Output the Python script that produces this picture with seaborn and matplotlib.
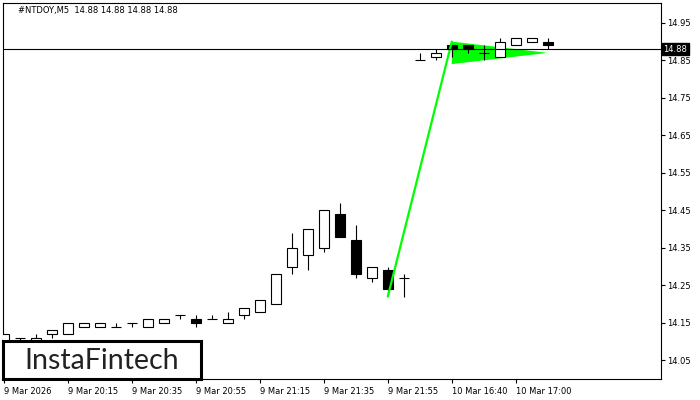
import matplotlib
matplotlib.use("Agg")
import matplotlib.pyplot as plt
import matplotlib.transforms as mtransforms
import seaborn as sns
import numpy as np

# 5-minute candles, index 0..34 (left to right)
opens  = [14.10, 14.11, 14.10, 14.12, 14.12, 14.14, 14.14, 14.14, 14.15, 14.14,
          14.15, 14.17, 14.16, 14.16, 14.15, 14.17, 14.18, 14.20, 14.30, 14.33,
          14.35, 14.44, 14.37, 14.27, 14.29, 14.27, 14.85, 14.86, 14.89, 14.89,
          14.87, 14.86, 14.89, 14.90, 14.90]
highs  = [14.12, 14.11, 14.12, 14.13, 14.15, 14.15, 14.15, 14.15, 14.15, 14.16,
          14.16, 14.17, 14.17, 14.17, 14.18, 14.19, 14.21, 14.28, 14.39, 14.40,
          14.45, 14.47, 14.41, 14.30, 14.30, 14.28, 14.87, 14.88, 14.89, 14.89,
          14.89, 14.91, 14.91, 14.91, 14.91]
lows   = [14.09, 14.10, 14.10, 14.11, 14.12, 14.14, 14.14, 14.14, 14.14, 14.14,
          14.15, 14.16, 14.14, 14.16, 14.15, 14.16, 14.18, 14.20, 14.28, 14.29,
          14.34, 14.38, 14.27, 14.26, 14.23, 14.22, 14.85, 14.85, 14.86, 14.87,
          14.85, 14.86, 14.89, 14.90, 14.88]
closes = [14.12, 14.11, 14.11, 14.13, 14.15, 14.15, 14.15, 14.14, 14.15, 14.16,
          14.16, 14.17, 14.15, 14.16, 14.16, 14.19, 14.21, 14.28, 14.35, 14.40,
          14.45, 14.38, 14.28, 14.30, 14.24, 14.27, 14.85, 14.87, 14.88, 14.88,
          14.87, 14.90, 14.91, 14.91, 14.89]

tick_pos = [0, 4, 8, 12, 16, 20, 24, 28, 32]
tick_labels = ['9 Mar 2026', '9 Mar 20:15', '9 Mar 20:35', '9 Mar 20:55', '9 Mar 21:15',
               '9 Mar 21:35', '9 Mar 21:55', '10 Mar 16:40', '10 Mar 17:00']
y_ticks = [14.05, 14.15, 14.25, 14.35, 14.45, 14.55, 14.65, 14.75, 14.85, 14.95]

# bullish pennant: pole and flag
pole_x = [24, 28]
pole_y = [14.22, 14.90]
flag_x = [28, 28, 34]
flag_y = [14.90, 14.84, 14.87]

last_price = 14.88
title = '#NTDOY,M5  14.88 14.88 14.88 14.88'

sns.set_theme(style='white')
plt.rcParams['font.family'] = ['DejaVu Sans']

fig = plt.figure(figsize=(7, 4), dpi=100)
ax = fig.add_axes([3/700, 21/400, 657.6/700, 376/400])

x = np.arange(len(opens))
o = np.array(opens); c = np.array(closes)
h = np.array(highs); l = np.array(lows)

# flag fill sits under the candles
ax.fill(flag_x, flag_y, color='#00ff00', lw=0, zorder=1)

ax.vlines(x, l, h, color='black', lw=0.8, zorder=2)
body = c != o
fill = np.where(c > o, 'white', 'black')
ax.bar(x[body], (c - o)[body], bottom=o[body], width=0.6, color=fill[body],
       edgecolor='black', linewidth=0.8, zorder=3)
doji = ~body
ax.hlines(o[doji], x[doji] - 0.33, x[doji] + 0.33, color='black', lw=0.8, zorder=3)

sns.lineplot(x=pole_x, y=pole_y, color='#00ff00', lw=1.6, ax=ax, zorder=4)

ax.axhline(last_price, color='black', lw=0.8, zorder=5)

ax.set_xlim(-0.05, 41.05)
ax.set_ylim(14.0, 15.003)
ax.yaxis.tick_right()
ax.set_yticks(y_ticks, [f'{v:.2f}' for v in y_ticks])
ax.set_xticks(tick_pos, tick_labels, ha='left')
ax.tick_params(axis='both', direction='out', length=3, width=0.8, labelsize=6,
               colors='black', pad=2, bottom=True, right=True)
ax.tick_params(axis='x', pad=3)
for s in ax.spines.values():
    s.set_color('black')
    s.set_linewidth(0.8)

trans = mtransforms.blended_transform_factory(ax.transAxes, ax.transData)
ax.text(1.004, last_price, '14.88', transform=trans, color='white', fontsize=6,
        va='center', ha='left', bbox=dict(facecolor='black', edgecolor='black', pad=1.2))

fig.text(18/700, 1 - 10/400, title, fontsize=6, va='center', ha='left', color='black')

# logo box
lax = fig.add_axes([3/700, 21/400, 198/700, 38/400])
lax.set_xticks([]); lax.set_yticks([])
lax.set_facecolor('white')
for s in lax.spines.values():
    s.set_color('black')
    s.set_linewidth(2.2)
lax.text(0.5, 0.47, 'InstaFintech', fontsize=20.5, family='Lato',
         color='#222222', ha='center', va='center', transform=lax.transAxes)

fig.savefig('out.png', dpi=100)
